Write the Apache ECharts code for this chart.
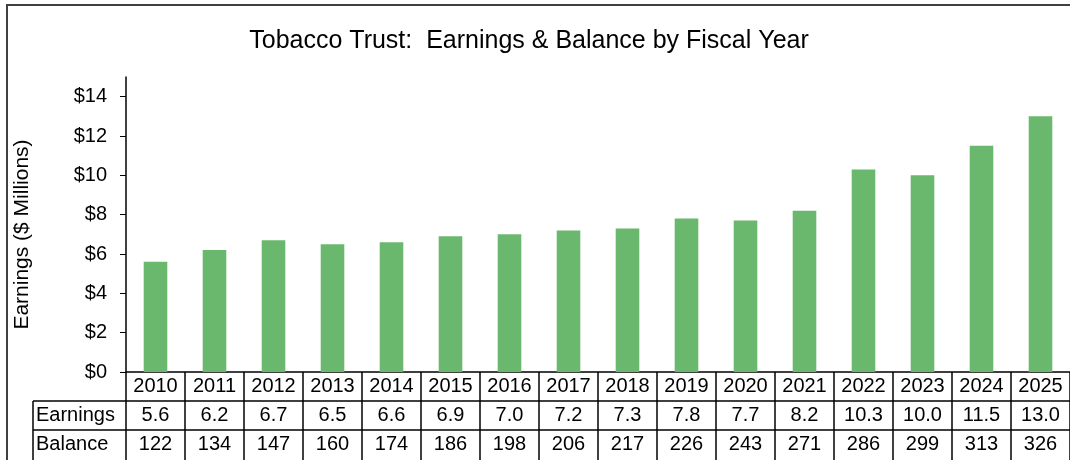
<!DOCTYPE html>
<html>
<head>
<meta charset="utf-8">
<script src="https://cdn.jsdelivr.net/npm/echarts@6/dist/echarts.min.js"></script>
<style>
  html, body { margin: 0; padding: 0; background: #fff; }
  #chart { width: 1070px; height: 460px; }
</style>
</head>
<body>
<div id="chart"></div>
<script>
// Fiscal years and the two rows of the data table
const years = ['2010', '2011', '2012', '2013', '2014', '2015', '2016', '2017',
               '2018', '2019', '2020', '2021', '2022', '2023', '2024', '2025'];
const earnings = [5.6, 6.2, 6.7, 6.5, 6.6, 6.9, 7.0, 7.2, 7.3, 7.8, 7.7, 8.2, 10.3, 10.0, 11.5, 13.0];
const balance = [122, 134, 147, 160, 174, 186, 198, 206, 217, 226, 243, 271, 286, 299, 313, 326];
const yTicks = [0, 2, 4, 6, 8, 10, 12, 14];
const rowNames = ['Earnings', 'Balance'];

const FONT = '"Liberation Sans", Arial, sans-serif';
const TABLE_FONT_SIZE = 20;
const ROW_H = 29;

const chart = echarts.init(document.getElementById('chart'), null, { renderer: 'canvas' });

function tableAxis(offset, values, fmt) {
  return {
    type: 'category',
    data: years,
    gridIndex: 0,
    position: 'bottom',
    offset: offset,
    axisLine: { show: false },
    axisTick: { show: false },
    axisLabel: {
      interval: 0,
      margin: 14,
      verticalAlign: 'middle',
      color: '#000',
      fontFamily: FONT,
      fontSize: TABLE_FONT_SIZE,
      formatter: (v, i) => fmt(values[i])
    }
  };
}

const option = {
  animation: false,
  backgroundColor: '#fff',
  title: {
    text: 'Tobacco Trust:  Earnings & Balance by Fiscal Year',
    left: 524,
    textAlign: 'center',
    top: 24,
    textStyle: { color: '#000', fontFamily: FONT, fontSize: 25, fontWeight: 'normal' }
  },
  grid: { left: 126, top: 77, width: 949, height: 295, containLabel: false },
  xAxis: [
    {
      type: 'category',
      data: years,
      position: 'bottom',
      axisLine: { show: true, lineStyle: { color: '#000', width: 1.5 } },
      axisTick: { show: false },
      axisLabel: {
        interval: 0,
        margin: 14,
        verticalAlign: 'middle',
        color: '#000',
        fontFamily: FONT,
        fontSize: TABLE_FONT_SIZE
      }
    },
    tableAxis(ROW_H, earnings, v => v.toFixed(1)),
    tableAxis(ROW_H * 2, balance, v => String(v))
  ],
  yAxis: {
    type: 'value',
    min: 0,
    max: 15,
    name: 'Earnings ($ Millions)',
    nameLocation: 'middle',
    nameGap: 93,
    nameTextStyle: { color: '#000', fontFamily: FONT, fontSize: 21, padding: [0, 20, 0, 0] },
    splitLine: { show: false },
    axisLine: { show: true, lineStyle: { color: '#000', width: 1.5 } },
    axisTick: { show: true, inside: false, length: 6, lineStyle: { color: '#000' }, customValues: yTicks },
    axisLabel: {
      margin: 19,
      color: '#000',
      fontFamily: FONT,
      fontSize: 20,
      customValues: yTicks,
      formatter: v => '$' + v
    }
  },
  series: [{
    type: 'bar',
    data: earnings,
    barCategoryGap: '60%',
    itemStyle: { color: '#6AB86E' }
  }]
};

chart.setOption(option);

// Table cell borders and row headers, placed from the category axis positions
function drawTable() {
  const n = years.length;
  const x0 = chart.convertToPixel({ xAxisIndex: 0 }, years[0]);
  const x1 = chart.convertToPixel({ xAxisIndex: 0 }, years[1]);
  const band = x1 - x0;
  const baseY = chart.convertToPixel({ yAxisIndex: 0 }, 0);
  const leftEdge = x0 - band / 2;
  const headLeft = 33;
  const bottom = 470;
  const stroke = { stroke: '#000', lineWidth: 1.5 };
  const els = [];

  // frame around the chart area
  els.push({ type: 'rect', shape: { x: 7, y: 5, width: 1200, height: 600 },
             style: { fill: 'none', stroke: '#404040', lineWidth: 2 }, z: 0 });

  for (let r = 1; r <= 2; r++) {
    const y = baseY + r * ROW_H;
    els.push({ type: 'line', shape: { x1: headLeft, y1: y, x2: 1200, y2: y }, style: stroke });
  }
  els.push({ type: 'line', shape: { x1: headLeft, y1: baseY + ROW_H, x2: headLeft, y2: bottom }, style: stroke });
  for (let i = 0; i <= n; i++) {
    const x = leftEdge + i * band;
    els.push({ type: 'line', shape: { x1: x, y1: baseY, x2: x, y2: bottom }, style: stroke });
  }
  rowNames.forEach((name, r) => {
    els.push({
      type: 'text',
      x: headLeft + 3,
      y: baseY + ROW_H * (r + 1) + ROW_H / 2,
      style: { text: name, fill: '#000', font: TABLE_FONT_SIZE + 'px ' + FONT, textVerticalAlign: 'middle', textAlign: 'left' }
    });
  });
  chart.setOption({ graphic: { elements: els } });
}
drawTable();
</script>
</body>
</html>
